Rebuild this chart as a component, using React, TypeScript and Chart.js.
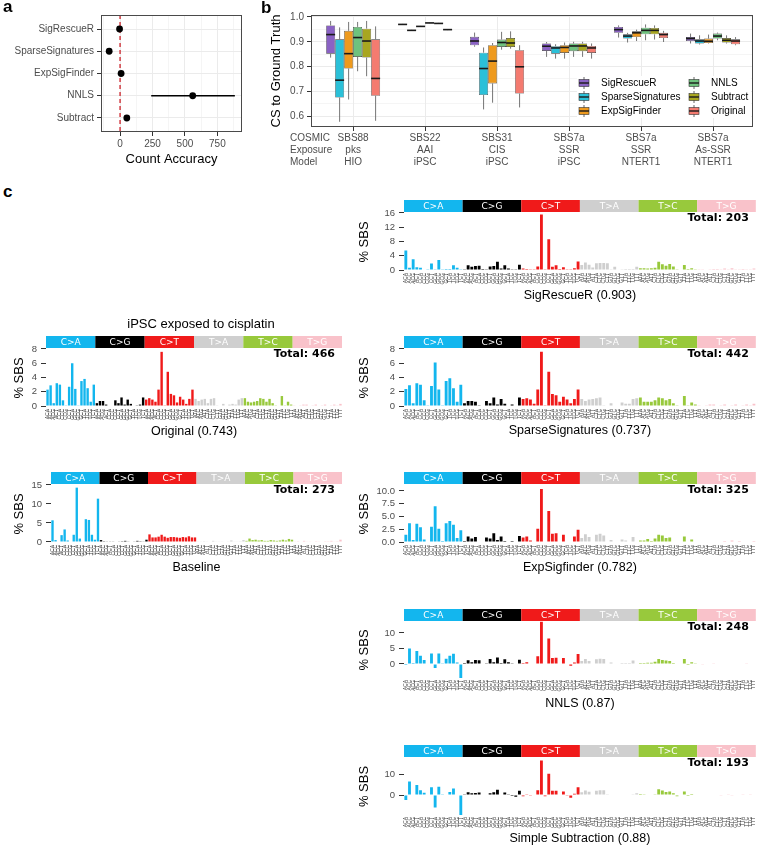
import React, { useEffect, useRef } from 'react';
import { Chart, registerables } from 'chart.js';

Chart.register(...registerables);

const SANS = '"Liberation Sans", Arial, Helvetica, sans-serif';
const AXIS_GREY = '#4D4D4D';
const GRID = '#EBEBEB';

// ---------- a: count accuracy per method ----------
const methodsA = ['SigRescueR', 'SparseSignatures', 'ExpSigFinder', 'NNLS', 'Subtract'];
const countAccuracy = [-4, -84, 8, 560, 52];
const countLow = [-12, -92, 1, 240, 44];
const countHigh = [4, -76, 15, 885, 60];
const accuracyTicks = [-125, 0, 125, 250, 375, 500, 625, 750, 875];

// ---------- b: cosine similarity to ground truth ----------
const exposureLabels = [
  ['SBS88', 'pks', 'HIO'],
  ['SBS22', 'AAI', 'iPSC'],
  ['SBS31', 'CIS', 'iPSC'],
  ['SBS7a', 'SSR', 'iPSC'],
  ['SBS7a', 'SSR', 'NTERT1'],
  ['SBS7a', 'As-SSR', 'NTERT1'],
];
const headerLabels = ['COSMIC', 'Exposure', 'Model'];
const methodsB = ['SigRescueR', 'SparseSignatures', 'ExpSigFinder', 'NNLS', 'Subtract', 'Original'];
const methodColors = ['#8A62C4', '#2BC0D8', '#EE9A1E', '#6EC27E', '#A8A620', '#F47B70'];
const csTicks = [0.6, 0.65, 0.7, 0.75, 0.8, 0.85, 0.9, 0.95, 1.0];

// [lower whisker, q1, median, q3, upper whisker] for each exposure
const boxSigRescueR = [
  [0.836, 0.852, 0.929, 0.966, 0.984],
  [0.968, 0.969, 0.970, 0.971, 0.972],
  [0.880, 0.886, 0.903, 0.920, 0.937],
  [0.839, 0.863, 0.882, 0.893, 0.899],
  [0.917, 0.936, 0.949, 0.960, 0.966],
  [0.893, 0.903, 0.913, 0.919, 0.933],
];
const boxSparseSignatures = [
  [0.577, 0.675, 0.745, 0.910, 0.958],
  [0.944, 0.945, 0.946, 0.947, 0.948],
  [0.627, 0.685, 0.792, 0.856, 0.877],
  [0.832, 0.852, 0.875, 0.882, 0.890],
  [0.897, 0.913, 0.923, 0.930, 0.936],
  [0.889, 0.893, 0.903, 0.910, 0.926],
];
const boxExpSigFinder = [
  [0.667, 0.792, 0.852, 0.944, 0.980],
  [0.960, 0.961, 0.962, 0.963, 0.964],
  [0.654, 0.732, 0.822, 0.886, 0.895],
  [0.832, 0.855, 0.877, 0.886, 0.897],
  [0.903, 0.919, 0.936, 0.942, 0.949],
  [0.893, 0.895, 0.902, 0.913, 0.929],
];
const boxNNLS = [
  [0.781, 0.839, 0.917, 0.960, 0.980],
  [0.974, 0.975, 0.976, 0.977, 0.978],
  [0.868, 0.879, 0.897, 0.909, 0.940],
  [0.839, 0.862, 0.883, 0.893, 0.900],
  [0.906, 0.930, 0.946, 0.957, 0.970],
  [0.906, 0.913, 0.923, 0.933, 0.937],
];
const boxSubtract = [
  [0.761, 0.836, 0.903, 0.953, 0.984],
  [0.972, 0.973, 0.974, 0.975, 0.976],
  [0.872, 0.879, 0.895, 0.915, 0.942],
  [0.839, 0.862, 0.883, 0.893, 0.900],
  [0.909, 0.930, 0.946, 0.956, 0.966],
  [0.893, 0.897, 0.906, 0.915, 0.926],
];
const boxOriginal = [
  [0.581, 0.682, 0.752, 0.910, 0.962],
  [0.947, 0.948, 0.949, 0.950, 0.951],
  [0.635, 0.691, 0.799, 0.866, 0.886],
  [0.832, 0.855, 0.875, 0.883, 0.893],
  [0.899, 0.915, 0.929, 0.936, 0.944],
  [0.886, 0.890, 0.903, 0.910, 0.919],
];
const boxStats = [boxSigRescueR, boxSparseSignatures, boxExpSigFinder, boxNNLS, boxSubtract, boxOriginal];

// ---------- c: 96-channel SBS spectra (% of SBS) ----------
const MUT_TYPES = ['C>A', 'C>G', 'C>T', 'T>A', 'T>C', 'T>G'];
const MUT_COLORS = ['#13B6EE', '#000000', '#F01A1A', '#CFCFCF', '#98C93C', '#F9C2CA'];
const BASES = ['A', 'C', 'G', 'T'];
const contexts: string[] = [];
MUT_TYPES.forEach((t) => BASES.forEach((f) => BASES.forEach((th) => contexts.push(f + t[0] + th))));

const spectrumSigRescueR = [
  5.5, 0.6, 3.0, 0.8, 0.6, 0.0, 0.1, 1.8, 0.2, 2.8, 0.1, 0.3, 0.3, 1.3, 0.6, 0.2,
  0.2, 1.3, 0.9, 1.1, 1.2, 0.3, 0.1, 1.0, 1.1, 2.3, 0.4, 1.3, 0.4, 0.1, 0.2, 1.5,
  0.4, 0.3, 0.1, 0.2, 1.0, 15.6, 0.1, 8.6, 0.9, 1.3, 0.3, 0.8, 0.2, 0.1, 0.5, 2.4,
  1.4, 2.1, 1.5, 0.7, 1.9, 2.0, 2.0, 1.9, 0.1, 0.9, 0.0, 0.1, 0.3, 0.3, 0.3, 0.9,
  0.5, 0.5, 0.4, 0.5, 0.6, 2.3, 1.6, 1.2, 1.7, 1.0, 0.2, 0.0, 1.4, 0.3, 0.5, 0.1,
  0.2, 0.1, 0.0, 0.1, 0.3, 0.3, 0.1, 0.4, 0.2, 0.5, 0.2, 0.2, 0.3, 0.2, 0.2, 0.4,
];
const spectrumOriginal = [
  2.3, 2.9, 0.4, 3.2, 3.0, 0.8, 0.1, 2.7, 6.0, 2.4, 0.1, 3.5, 3.8, 2.5, 0.6, 3.0,
  0.4, 0.7, 0.7, 0.2, 0.0, 0.0, 0.8, 0.4, 1.2, 0.2, 0.9, 0.3, 0.0, 0.1, 0.2, 1.2,
  0.9, 1.1, 0.9, 0.6, 2.3, 7.6, 0.1, 4.8, 1.7, 1.5, 0.5, 1.3, 0.9, 0.3, 1.0, 2.3,
  1.0, 0.7, 0.9, 1.0, 0.4, 1.0, 1.1, 0.1, 0.0, 0.3, 0.0, 0.2, 0.3, 0.2, 0.9, 1.1,
  1.1, 0.6, 0.5, 0.6, 0.7, 1.1, 1.0, 0.6, 1.0, 0.4, 0.1, 0.0, 1.4, 0.1, 0.6, 0.2,
  0.1, 0.0, 0.1, 0.2, 0.2, 0.0, 0.1, 0.2, 0.0, 0.1, 0.2, 0.0, 0.1, 0.2, 0.1, 0.3,
];
const spectrumSparseSignatures = [
  2.4, 2.9, 0.4, 3.2, 3.0, 0.8, 0.1, 2.8, 6.1, 2.3, 0.1, 3.5, 3.9, 2.5, 0.6, 3.0,
  0.4, 0.7, 0.7, 0.6, 0.1, 0.0, 0.7, 0.4, 1.2, 0.2, 1.0, 0.3, 0.0, 0.2, 0.0, 1.2,
  1.0, 1.1, 0.9, 0.3, 2.3, 7.6, 0.1, 4.8, 1.7, 1.5, 0.6, 1.3, 0.9, 0.4, 1.0, 2.3,
  1.0, 0.7, 0.9, 1.0, 1.1, 1.2, 0.1, 0.0, 0.4, 0.0, 0.0, 0.5, 0.3, 0.3, 1.0, 1.1,
  1.2, 0.6, 0.6, 0.6, 0.8, 1.2, 1.1, 0.8, 1.0, 0.4, 0.1, 0.0, 1.4, 0.1, 0.5, 0.2,
  0.1, 0.0, 0.1, 0.2, 0.2, 0.0, 0.1, 0.2, 0.0, 0.1, 0.2, 0.0, 0.1, 0.2, 0.1, 0.3,
];
const spectrumBaseline = [
  5.7, 0.5, 0.0, 1.8, 3.3, 0.4, 0.0, 1.9, 14.3, 0.9, 0.0, 6.0, 5.8, 1.9, 0.6, 11.4,
  0.5, 0.2, 0.1, 0.1, 0.1, 0.0, 0.1, 0.2, 0.3, 0.1, 0.0, 0.1, 0.3, 0.2, 0.1, 0.6,
  2.0, 1.2, 1.2, 1.4, 1.9, 1.4, 1.1, 1.3, 1.3, 1.2, 1.1, 1.3, 1.2, 1.5, 1.2, 1.2,
  0.1, 0.1, 0.2, 0.1, 0.0, 0.3, 0.1, 0.1, 0.1, 0.0, 0.1, 0.4, 0.1, 0.1, 0.2, 0.5,
  0.3, 0.9, 0.5, 0.6, 0.4, 0.5, 0.3, 0.3, 0.5, 0.4, 0.3, 0.4, 0.6, 0.4, 0.8, 0.6,
  0.1, 0.2, 0.0, 0.3, 0.1, 0.1, 0.0, 0.2, 0.1, 0.0, 0.2, 0.2, 0.3, 0.1, 0.2, 0.6,
];
const spectrumExpSigfinder = [
  1.4, 3.7, 0.4, 3.6, 2.9, 0.5, 0.0, 3.0, 7.0, 2.6, 0.2, 3.7, 4.1, 3.4, 0.8, 2.3,
  0.2, 1.1, 0.7, 1.0, 0.0, 0.0, 0.9, 0.7, 1.7, 0.4, 1.1, 0.2, 0.0, 0.2, 0.0, 1.2,
  0.9, 1.1, 0.3, 0.0, 2.6, 10.4, 0.0, 6.1, 1.6, 1.7, 0.0, 1.4, 0.0, 0.0, 1.1, 2.4,
  0.8, 1.5, 1.0, 0.0, 1.4, 1.6, 1.3, 0.0, 0.4, 0.0, 0.0, 0.5, 0.3, 0.0, 1.0, 0.0,
  0.3, 0.3, 0.6, 0.2, 0.7, 1.4, 1.3, 0.8, 0.9, 0.0, 0.0, 0.0, 1.1, 0.0, 0.5, 0.0,
  0.0, 0.0, 0.0, 0.0, 0.0, 0.0, 0.0, 0.2, 0.0, 0.3, 0.0, 0.2, 0.0, 0.0, 0.0, 0.2,
];
const spectrumNNLS = [
  -0.3, 5.0, 0.3, 4.2, 2.7, 1.3, 0.0, 3.4, -1.3, 3.4, 0.1, 1.7, 2.7, 3.3, 0.5, -4.5,
  0.3, 1.2, 0.6, 1.3, 1.2, 0.2, 0.1, 1.6, 0.6, 2.1, 0.3, 1.5, 0.6, 0.1, -0.2, 1.4,
  0.3, 0.6, 0.2, 0.0, 2.5, 13.6, 0.0, 8.2, 1.9, 2.0, 0.0, 1.9, 0.0, -0.6, 0.5, 3.2,
  1.0, 1.6, 1.0, 0.0, 1.5, 1.7, 1.6, 0.0, 0.5, 0.0, 0.2, 0.3, 0.3, 0.3, 1.1, 0.0,
  0.3, 0.3, 0.4, 0.4, 0.7, 1.6, 1.3, 1.1, 1.0, 0.3, -0.2, 0.0, 1.6, -0.3, 0.6, 0.1,
  0.0, -0.1, 0.0, 0.0, 0.1, 0.0, 0.0, 0.2, 0.0, 0.0, 0.2, 0.0, 0.0, 0.1, 0.0, 0.2,
];
const spectrumSubtraction = [
  -2.4, 6.5, 0.3, 4.8, 2.3, 1.1, 0.0, 3.7, -6.0, 4.0, 0.1, 0.2, 1.5, 3.2, 0.3, -9.6,
  0.1, 1.3, 0.8, 1.0, 1.2, 0.0, 0.0, 0.9, 1.3, 2.6, 0.2, 1.2, 0.1, -0.5, -0.8, 2.0,
  -0.6, 0.4, -0.3, 0.0, 2.3, 16.7, -0.6, 10.3, 2.0, 2.1, 0.0, 1.7, -0.4, -1.3, 0.6, 3.8,
  1.3, 2.2, 1.6, 0.2, 2.0, 2.3, 2.3, 0.1, 0.3, 0.0, 0.0, 0.0, 0.2, 0.3, 0.1, 0.8,
  0.5, 0.4, 0.0, 0.3, 0.4, 2.8, 2.2, 1.5, 1.7, 0.8, -0.6, 0.0, 1.7, -0.5, 0.5, 0.0,
  0.0, -0.2, 0.0, -0.2, 0.0, 0.2, -0.1, 0.0, 0.1, -0.1, 0.0, 0.2, 0.1, 0.0, 0.1, 0.0,
];

type Rect = { left: number; top: number; right: number; bottom: number };

function useChart(build: (canvas: HTMLCanvasElement) => Chart) {
  const ref = useRef<HTMLCanvasElement>(null);
  useEffect(() => {
    const chart = build(ref.current as HTMLCanvasElement);
    return () => chart.destroy();
  }, []);
  return ref;
}

function Canvas({ box, canvasRef }: { box: Rect; canvasRef: any }) {
  const w = box.right - box.left;
  const h = box.bottom - box.top;
  return (
    <canvas
      ref={canvasRef}
      width={w}
      height={h}
      style={{ position: 'absolute', left: box.left, top: box.top, width: w, height: h }}
    />
  );
}

function strokeBorder(chart: any) {
  const { ctx, chartArea: a } = chart;
  ctx.save();
  ctx.strokeStyle = '#4A4A4A';
  ctx.lineWidth = 1;
  ctx.strokeRect(Math.round(a.left) + 0.5, Math.round(a.top) + 0.5, Math.round(a.right - a.left) - 1, Math.round(a.bottom - a.top) - 1);
  ctx.restore();
}

// ---------- panel a ----------
const A_BOX: Rect = { left: 0, top: 5, right: 252, bottom: 167 };
const A_AREA: Rect = { left: 101, top: 15, right: 242, bottom: 132 };

function PanelA() {
  const ref = useChart((canvas) =>
    new Chart(canvas, {
      type: 'scatter',
      data: {
        datasets: [
          {
            data: methodsA.map((_, i) => ({ x: countAccuracy[i], y: i })),
            pointRadius: 3.4,
            pointBackgroundColor: '#000',
            pointBorderWidth: 0,
          },
        ],
      },
      options: {
        responsive: false,
        animation: false,
        layout: { padding: { top: A_AREA.top - A_BOX.top, right: A_BOX.right - A_AREA.right, left: 0, bottom: 0 } },
        plugins: { legend: { display: false }, tooltip: { enabled: false } },
        scales: {
          x: {
            type: 'linear',
            min: -147,
            max: 940,
            afterBuildTicks: (s: any) => {
              s.ticks = accuracyTicks.map((v) => ({ value: v }));
            },
            ticks: {
              autoSkip: false,
              callback: (v: any) => (v % 250 === 0 ? String(v) : ''),
              font: { family: SANS, size: 10 },
              color: AXIS_GREY,
              padding: 2,
              maxRotation: 0,
            },
            grid: {
              color: GRID,
              lineWidth: (c: any) => (c.tick && c.tick.value % 250 === 0 ? 1 : 0.5),
              tickColor: (c: any) => (c.tick && c.tick.value % 250 === 0 ? '#333' : 'rgba(0,0,0,0)'),
              tickLength: 4,
            },
            border: { display: false },
            title: { display: true, text: 'Count Accuracy', font: { family: SANS, size: 13 }, color: '#000', padding: 0 },
            afterFit: (s: any) => {
              s.height = A_BOX.bottom - A_AREA.bottom;
            },
          },
          y: {
            type: 'linear',
            reverse: true,
            min: -0.63,
            max: 4.63,
            afterBuildTicks: (s: any) => {
              s.ticks = methodsA.map((_, i) => ({ value: i }));
            },
            ticks: {
              autoSkip: false,
              callback: (v: any) => methodsA[v] ?? '',
              font: { family: SANS, size: 10 },
              color: AXIS_GREY,
              padding: 3,
            },
            grid: { color: GRID, lineWidth: 1, tickColor: '#333', tickLength: 4 },
            border: { display: false },
            afterFit: (s: any) => {
              s.width = A_AREA.left - A_BOX.left;
            },
          },
        },
      },
      plugins: [
        {
          id: 'accuracyDecor',
          beforeDatasetsDraw(chart: any) {
            const { ctx, chartArea: a, scales } = chart;
            const x = scales.x;
            const y = scales.y;
            ctx.save();
            const x0 = x.getPixelForValue(0);
            ctx.strokeStyle = '#CC2229';
            ctx.lineWidth = 1.3;
            ctx.setLineDash([4, 3]);
            ctx.beginPath();
            ctx.moveTo(x0, a.top);
            ctx.lineTo(x0, a.bottom);
            ctx.stroke();
            ctx.setLineDash([]);
            ctx.strokeStyle = '#000';
            ctx.lineWidth = 1.5;
            methodsA.forEach((_, i) => {
              const py = y.getPixelForValue(i);
              ctx.beginPath();
              ctx.moveTo(x.getPixelForValue(countLow[i]), py);
              ctx.lineTo(x.getPixelForValue(countHigh[i]), py);
              ctx.stroke();
            });
            ctx.restore();
          },
          afterDraw(chart: any) {
            strokeBorder(chart);
          },
        },
      ],
    } as any)
  );
  return <Canvas box={A_BOX} canvasRef={ref} />;
}

// ---------- panel b ----------
const B_BOX: Rect = { left: 269, top: 5, right: 760, bottom: 172 };
const B_AREA: Rect = { left: 311, top: 15, right: 753, bottom: 127 };
const isMajor = (v: number) => Math.abs(v * 10 - Math.round(v * 10)) < 1e-6;

function PanelB() {
  const ref = useChart((canvas) =>
    new Chart(canvas, {
      type: 'bar',
      data: {
        datasets: methodsB.map((m, k) => ({
          label: m,
          data: boxStats[k].map((s, i) => ({ x: i, y: [s[1], s[3]] })),
          backgroundColor: methodColors[k],
          borderColor: '#333',
          borderWidth: 0.6,
          borderSkipped: false,
          categoryPercentage: 0.75,
          barPercentage: 1,
        })),
      },
      options: {
        responsive: false,
        animation: false,
        layout: { padding: { top: B_AREA.top - B_BOX.top, right: B_BOX.right - B_AREA.right, left: 0, bottom: 0 } },
        plugins: { legend: { display: false }, tooltip: { enabled: false } },
        scales: {
          x: {
            type: 'linear',
            offset: false,
            min: -0.585,
            max: 5.555,
            afterBuildTicks: (s: any) => {
              s.ticks = exposureLabels.map((_, i) => ({ value: i }));
            },
            ticks: {
              autoSkip: false,
              callback: (v: any) => exposureLabels[v] ?? '',
              font: { family: SANS, size: 10, lineHeight: 1.2 },
              color: AXIS_GREY,
              padding: 1,
              maxRotation: 0,
            },
            grid: { offset: false, color: GRID, lineWidth: 1, tickColor: '#333', tickLength: 4 },
            border: { display: false },
            afterFit: (s: any) => {
              s.height = B_BOX.bottom - B_AREA.bottom;
            },
          },
          y: {
            type: 'linear',
            min: 0.556,
            max: 1.008,
            afterBuildTicks: (s: any) => {
              s.ticks = csTicks.map((v) => ({ value: v }));
            },
            ticks: {
              autoSkip: false,
              callback: (v: any) => (isMajor(v) ? Number(v).toFixed(1) : ''),
              font: { family: SANS, size: 10 },
              color: AXIS_GREY,
              padding: 3,
            },
            grid: {
              color: GRID,
              lineWidth: (c: any) => (c.tick && isMajor(c.tick.value) ? 1 : 0.5),
              tickColor: (c: any) => (c.tick && isMajor(c.tick.value) ? '#333' : 'rgba(0,0,0,0)'),
              tickLength: 4,
            },
            border: { display: false },
            title: { display: true, text: 'CS to Ground Truth', font: { family: SANS, size: 13 }, color: '#000', padding: 0 },
            afterFit: (s: any) => {
              s.width = B_AREA.left - B_BOX.left;
            },
          },
        },
      },
      plugins: [
        {
          id: 'boxDecor',
          afterDatasetsDraw(chart: any) {
            const { ctx } = chart;
            const y = chart.scales.y;
            ctx.save();
            boxStats.forEach((stats, k) => {
              const meta = chart.getDatasetMeta(k);
              meta.data.forEach((el: any, i: number) => {
                const { x, width } = el.getProps(['x', 'width'], true);
                const [lw, q1, med, q3, uw] = stats[i];
                ctx.strokeStyle = '#666';
                ctx.lineWidth = 0.9;
                ctx.beginPath();
                ctx.moveTo(x, y.getPixelForValue(q3));
                ctx.lineTo(x, y.getPixelForValue(uw));
                ctx.moveTo(x, y.getPixelForValue(q1));
                ctx.lineTo(x, y.getPixelForValue(lw));
                ctx.stroke();
                ctx.strokeStyle = '#1A1A1A';
                ctx.lineWidth = 1.6;
                const pm = y.getPixelForValue(med);
                ctx.beginPath();
                ctx.moveTo(x - width / 2, pm);
                ctx.lineTo(x + width / 2, pm);
                ctx.stroke();
              });
            });
            ctx.restore();
          },
          afterDraw(chart: any) {
            const { ctx, chartArea: a } = chart;
            strokeBorder(chart);
            ctx.save();
            // row headers for the multi-line exposure labels
            ctx.font = `10px ${SANS}`;
            ctx.fillStyle = AXIS_GREY;
            ctx.textAlign = 'left';
            ctx.textBaseline = 'middle';
            headerLabels.forEach((t, r) => ctx.fillText(t, 290 - B_BOX.left, a.bottom + 11 + r * 12));
            // legend inside the panel
            const lx = a.left + 266;
            const ly = a.top + 61;
            ctx.fillStyle = '#fff';
            ctx.fillRect(lx, ly, 174, 42);
            methodsB.forEach((m, k) => {
              const col = Math.floor(k / 3);
              const row = k % 3;
              const kx = lx + 7 + col * 110;
              const ky = ly + 7 + row * 14;
              ctx.strokeStyle = '#555';
              ctx.lineWidth = 0.9;
              ctx.beginPath();
              ctx.moveTo(kx, ky - 6);
              ctx.lineTo(kx, ky + 6);
              ctx.stroke();
              ctx.fillStyle = methodColors[k];
              ctx.fillRect(kx - 5, ky - 3.5, 10, 7);
              ctx.strokeStyle = '#333';
              ctx.lineWidth = 0.6;
              ctx.strokeRect(kx - 5, ky - 3.5, 10, 7);
              ctx.strokeStyle = '#1A1A1A';
              ctx.lineWidth = 1.4;
              ctx.beginPath();
              ctx.moveTo(kx - 5, ky);
              ctx.lineTo(kx + 5, ky);
              ctx.stroke();
              ctx.fillStyle = '#000';
              ctx.font = `10px ${SANS}`;
              ctx.textAlign = 'left';
              ctx.textBaseline = 'middle';
              ctx.fillText(m, kx + 17, ky + 0.5);
            });
            ctx.restore();
          },
        },
      ],
    } as any)
  );
  return <Canvas box={B_BOX} canvasRef={ref} />;
}

// ---------- panel c ----------
type SpectrumSpec = {
  values: number[];
  title: string;
  total: string;
  yTicks: number[];
  digits: number;
  yMin: number;
  yMax: number;
  box: Rect;
  area: Rect;
  heading?: string;
  headingAt?: [number, number];
};

const STRIP_H = 12;

function Spectrum({ spec }: { spec: SpectrumSpec }) {
  const { values, title, total, yTicks, digits, yMin, yMax, box, area, heading, headingAt } = spec;
  const ref = useChart((canvas) =>
    new Chart(canvas, {
      type: 'bar',
      data: {
        labels: contexts,
        datasets: [
          {
            data: values,
            backgroundColor: values.map((_, i) => MUT_COLORS[Math.floor(i / 16)]),
            barPercentage: 0.78,
            categoryPercentage: 1,
          },
        ],
      },
      options: {
        responsive: false,
        animation: false,
        layout: { padding: { top: area.top - box.top, right: box.right - area.right, left: 0, bottom: 0 } },
        plugins: { legend: { display: false }, tooltip: { enabled: false } },
        scales: {
          x: {
            ticks: {
              autoSkip: false,
              minRotation: 90,
              maxRotation: 90,
              font: { family: SANS, size: 5, lineHeight: 1 },
              color: '#444',
              padding: 1,
            },
            grid: { display: false, drawTicks: false, tickLength: 0 },
            border: { display: false },
            title: { display: true, text: title, font: { family: SANS, size: 12.5 }, color: '#000', padding: 0 },
            afterFit: (s: any) => {
              s.height = box.bottom - area.bottom;
            },
          },
          y: {
            type: 'linear',
            min: yMin,
            max: yMax,
            afterBuildTicks: (s: any) => {
              s.ticks = yTicks.map((v) => ({ value: v }));
            },
            ticks: {
              autoSkip: false,
              callback: (v: any) => Number(v).toFixed(digits),
              font: { family: SANS, size: 9.5 },
              color: AXIS_GREY,
              padding: 4,
            },
            grid: { drawOnChartArea: false, drawTicks: true, tickLength: 5, color: '#333', lineWidth: 1 },
            border: { display: false },
            title: { display: true, text: '% SBS', font: { family: SANS, size: 13 }, color: '#000', padding: 0 },
            afterFit: (s: any) => {
              s.width = area.left - box.left;
            },
          },
        },
      },
      plugins: [
        {
          id: 'spectrumDecor',
          afterDraw(chart: any) {
            const { ctx, chartArea: a } = chart;
            const x = chart.scales.x;
            ctx.save();
            MUT_TYPES.forEach((t, g) => {
              const x0 = x.getPixelForValue(g * 16 - 0.5);
              const x1 = x.getPixelForValue(g * 16 + 15.5);
              ctx.fillStyle = MUT_COLORS[g];
              ctx.fillRect(x0, a.top - STRIP_H, x1 - x0, STRIP_H);
              ctx.fillStyle = '#fff';
              ctx.font = '9px "DejaVu Sans", sans-serif';
              ctx.textAlign = 'center';
              ctx.textBaseline = 'middle';
              ctx.fillText(t, (x0 + x1) / 2, a.top - STRIP_H / 2 + 0.5);
            });
            ctx.fillStyle = '#000';
            ctx.font = 'bold 11px "DejaVu Sans", sans-serif';
            ctx.textAlign = 'right';
            ctx.textBaseline = 'middle';
            ctx.fillText(total, a.right - 7, a.top + 6.5);
            if (heading && headingAt) {
              ctx.font = `13px ${SANS}`;
              ctx.textAlign = 'center';
              ctx.fillText(heading, headingAt[0] - box.left, headingAt[1] - box.top);
            }
            ctx.restore();
          },
        },
      ],
    } as any)
  );
  return <Canvas box={box} canvasRef={ref} />;
}

const RIGHT_L = 357;
const RIGHT_AREA_L = 404;
const RIGHT_AREA_R = 757;

const spectra: SpectrumSpec[] = [
  {
    values: spectrumSigRescueR, title: 'SigRescueR (0.903)', total: 'Total: 203',
    yTicks: [0, 4, 8, 12, 16], digits: 0, yMin: -0.56, yMax: 16.28,
    box: { left: RIGHT_L, top: 197, right: 760, bottom: 303 },
    area: { left: RIGHT_AREA_L, top: 212, right: RIGHT_AREA_R, bottom: 272 },
  },
  {
    values: spectrumSparseSignatures, title: 'SparseSignatures (0.737)', total: 'Total: 442',
    yTicks: [0, 2, 4, 6, 8], digits: 0, yMin: -0.28, yMax: 8.14,
    box: { left: RIGHT_L, top: 334, right: 760, bottom: 438 },
    area: { left: RIGHT_AREA_L, top: 348, right: RIGHT_AREA_R, bottom: 408 },
  },
  {
    values: spectrumExpSigfinder, title: 'ExpSigfinder (0.782)', total: 'Total: 325',
    yTicks: [0, 2.5, 5, 7.5, 10], digits: 1, yMin: -0.39, yMax: 11.37,
    box: { left: RIGHT_L, top: 470, right: 760, bottom: 575 },
    area: { left: RIGHT_AREA_L, top: 484, right: RIGHT_AREA_R, bottom: 544 },
  },
  {
    values: spectrumNNLS, title: 'NNLS (0.87)', total: 'Total: 248',
    yTicks: [0, 5, 10], digits: 0, yMin: -4.84, yMax: 13.87,
    box: { left: RIGHT_L, top: 607, right: 760, bottom: 711 },
    area: { left: RIGHT_AREA_L, top: 621, right: RIGHT_AREA_R, bottom: 679 },
  },
  {
    values: spectrumSubtraction, title: 'Simple Subtraction (0.88)', total: 'Total: 193',
    yTicks: [0, 10], digits: 0, yMin: -10.14, yMax: 18.36,
    box: { left: RIGHT_L, top: 740, right: 760, bottom: 846 },
    area: { left: RIGHT_AREA_L, top: 757, right: RIGHT_AREA_R, bottom: 816 },
  },
  {
    values: spectrumOriginal, title: 'Original (0.743)', total: 'Total: 466',
    yTicks: [0, 2, 4, 6, 8], digits: 0, yMin: -0.28, yMax: 8.14,
    box: { left: 12, top: 310, right: 352, bottom: 439 },
    area: { left: 46, top: 348, right: 342, bottom: 408 },
    heading: 'iPSC exposed to cisplatin', headingAt: [201, 324],
  },
  {
    values: spectrumBaseline, title: 'Baseline', total: 'Total: 273',
    yTicks: [0, 5, 10, 15], digits: 0, yMin: -0.53, yMax: 15.26,
    box: { left: 12, top: 470, right: 352, bottom: 575 },
    area: { left: 51, top: 484, right: 342, bottom: 544 },
  },
];

const tagStyle: React.CSSProperties = {
  position: 'absolute',
  font: `bold 17px ${SANS}`,
  lineHeight: '17px',
  color: '#000',
};

export default function App() {
  return (
    <div
      style={{
        position: 'absolute',
        left: 0,
        top: 0,
        width: 760,
        height: 848,
        background: '#fff',
        overflow: 'hidden',
      }}
    >
      <PanelA />
      <PanelB />
      {spectra.map((s) => (
        <Spectrum key={s.title} spec={s} />
      ))}
      <div style={{ ...tagStyle, left: 3, top: -2 }}>a</div>
      <div style={{ ...tagStyle, left: 261, top: -1 }}>b</div>
      <div style={{ ...tagStyle, left: 3, top: 183 }}>c</div>
    </div>
  );
}
